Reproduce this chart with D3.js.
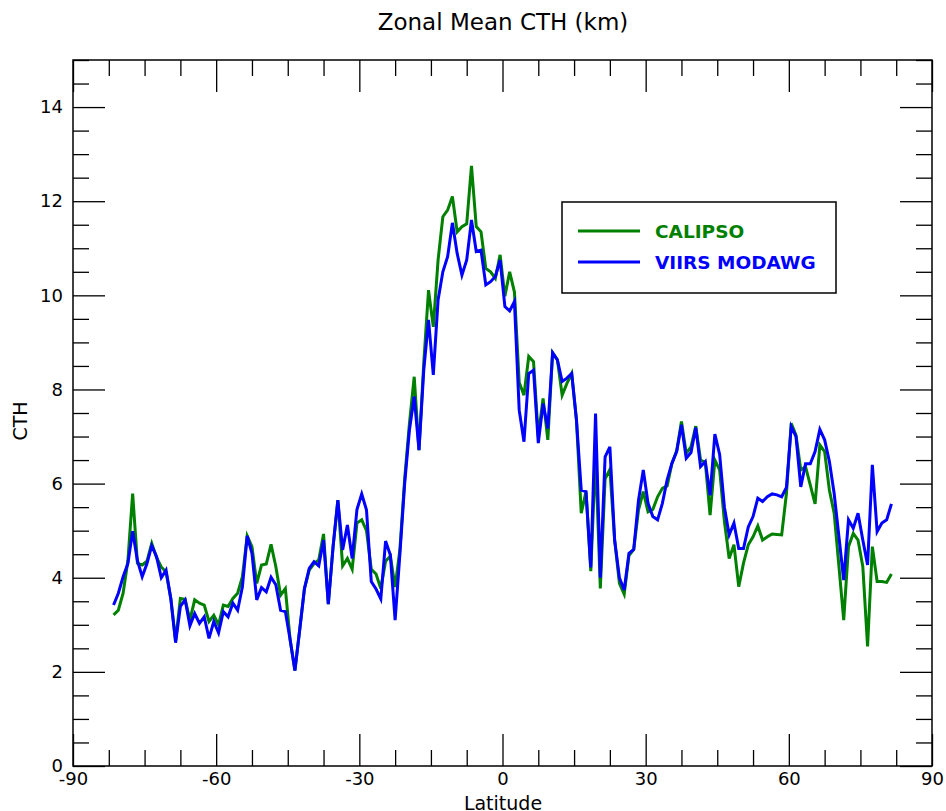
<!DOCTYPE html>
<html>
<head>
<meta charset="utf-8">
<script src="https://cdn.jsdelivr.net/npm/d3@7"></script>
<style>
  html, body { margin: 0; padding: 0; background: #fff; }
  svg { display: block; font-family: "DejaVu Sans", sans-serif; }
</style>
</head>
<body>
<svg id="chart" width="946" height="811"></svg>
<script>
// Latitude bin centres (1-degree zonal bins)
const latitudes = d3.range(-81.5, 82, 1);

// Zonal mean cloud-top height (km), CALIPSO
const calipso = [
  3.21, 3.31, 3.67, 4.36, 5.79, 4.31, 4.27, 4.35, 4.73, 4.43,
  4.23, 4.12, 3.56, 2.66, 3.56, 3.54, 3.10, 3.53, 3.46, 3.42,
  3.07, 3.20, 3.00, 3.42, 3.39, 3.56, 3.67, 4.02, 4.89, 4.66,
  3.88, 4.27, 4.29, 4.71, 4.24, 3.63, 3.77, 2.68, 2.03, 2.89,
  3.77, 4.16, 4.30, 4.38, 4.93, 3.44, 4.66, 5.65, 4.25, 4.41,
  4.18, 5.16, 5.23, 5.00, 4.18, 4.08, 3.77, 4.35, 4.46, 3.80,
  4.60, 6.10, 7.28, 8.27, 6.71, 8.56, 10.11, 9.33, 10.75, 11.67,
  11.81, 12.10, 11.35, 11.46, 11.52, 12.75, 11.46, 11.35, 10.57, 10.50,
  10.36, 10.86, 9.98, 10.50, 10.07, 8.15, 7.88, 8.70, 8.59, 7.00,
  7.81, 6.93, 8.78, 8.63, 7.88, 8.13, 8.34, 7.35, 5.37, 5.83,
  4.14, 6.60, 3.77, 6.10, 6.30, 4.80, 3.88, 3.65, 4.47, 4.60,
  5.44, 5.83, 5.40, 5.45, 5.72, 5.90, 5.95, 6.43, 6.70, 7.32,
  6.64, 6.78, 7.22, 6.50, 6.45, 5.33, 6.50, 6.29, 5.20, 4.41,
  4.70, 3.81, 4.31, 4.70, 4.87, 5.10, 4.80, 4.87, 4.93, 4.92,
  4.91, 5.79, 7.28, 7.03, 6.29, 6.36, 5.97, 5.57, 6.82, 6.68,
  5.86, 5.37, 4.24, 3.10, 4.66, 4.94, 4.80, 4.24, 2.54, 4.66,
  3.92, 3.92, 3.90, 4.08
];

// Zonal mean cloud-top height (km), VIIRS MODAWG
const viirs = [
  3.42, 3.67, 4.02, 4.30, 4.99, 4.36, 4.02, 4.30, 4.68, 4.45,
  4.00, 4.16, 3.55, 2.62, 3.39, 3.53, 2.98, 3.24, 3.03, 3.17,
  2.71, 3.07, 2.83, 3.28, 3.17, 3.46, 3.31, 3.81, 4.89, 4.52,
  3.53, 3.79, 3.70, 4.01, 3.85, 3.31, 3.28, 2.68, 2.03, 2.89,
  3.77, 4.20, 4.34, 4.25, 4.80, 3.44, 4.66, 5.65, 4.59, 5.12,
  4.41, 5.45, 5.78, 5.44, 3.92, 3.76, 3.55, 4.78, 4.48, 3.10,
  4.50, 6.00, 7.14, 7.85, 6.71, 8.41, 9.48, 8.31, 9.90, 10.50,
  10.82, 11.54, 10.89, 10.43, 10.75, 11.60, 10.93, 10.96, 10.22, 10.29,
  10.40, 10.75, 9.76, 9.67, 9.87, 7.56, 6.89, 8.34, 8.41, 6.86,
  7.70, 7.17, 8.78, 8.63, 8.17, 8.24, 8.34, 7.35, 5.86, 5.83,
  4.22, 7.49, 4.00, 6.57, 6.78, 4.80, 4.00, 3.74, 4.52, 4.60,
  5.65, 6.29, 5.58, 5.30, 5.23, 5.58, 6.08, 6.43, 6.68, 7.25,
  6.54, 6.66, 7.19, 6.36, 6.47, 5.75, 7.05, 6.62, 5.50, 4.91,
  5.16, 4.62, 4.62, 5.08, 5.30, 5.69, 5.62, 5.72, 5.78, 5.76,
  5.72, 5.92, 7.21, 7.00, 5.93, 6.42, 6.42, 6.68, 7.15, 6.93,
  6.47, 5.79, 4.87, 3.95, 5.23, 5.05, 5.37, 4.80, 4.27, 6.40,
  4.98, 5.16, 5.23, 5.57
];

const seriesNames = ["CALIPSO", "VIIRS MODAWG"];
const seriesColors = ["#008000", "#0000ff"];

const xMajorTicks = [-90, -60, -30, 0, 30, 60, 90];
const yMajorTicks = [0, 2, 4, 6, 8, 10, 12, 14];

const svg = d3.select("#chart");
const plot = { left: 73, right: 932, top: 60, bottom: 766 };

const x = d3.scaleLinear().domain([-90, 90]).range([plot.left, plot.right]);
const y = d3.scaleLinear().domain([0, 15]).range([plot.bottom, plot.top]);

const majorLen = 32, minorLen = 16;
const xMinor = d3.range(-90, 90.01, 7.5).filter(v => !xMajorTicks.includes(v));
const yMinor = d3.range(0, 15.01, 0.5).filter(v => !yMajorTicks.includes(v));
const plain = d => String(d);

const axesG = svg.append("g").attr("class", "axes");

// bottom: labelled major ticks + minor ticks, pointing inward
axesG.append("g").attr("class", "lbl-x").attr("transform", `translate(0,${plot.bottom})`)
  .call(d3.axisBottom(x).tickValues(xMajorTicks).tickSize(-majorLen)
    .tickPadding(6).tickFormat(plain));
axesG.append("g").attr("transform", `translate(0,${plot.bottom})`)
  .call(d3.axisBottom(x).tickValues(xMinor).tickSize(-minorLen).tickFormat(""));
// top
axesG.append("g").attr("transform", `translate(0,${plot.top})`)
  .call(d3.axisTop(x).tickValues(xMajorTicks).tickSize(-majorLen).tickFormat(""));
axesG.append("g").attr("transform", `translate(0,${plot.top})`)
  .call(d3.axisTop(x).tickValues(xMinor).tickSize(-minorLen).tickFormat(""));
// left: labelled
axesG.append("g").attr("class", "lbl-y").attr("transform", `translate(${plot.left},0)`)
  .call(d3.axisLeft(y).tickValues(yMajorTicks).tickSize(-majorLen)
    .tickPadding(10).tickFormat(plain));
axesG.append("g").attr("transform", `translate(${plot.left},0)`)
  .call(d3.axisLeft(y).tickValues(yMinor).tickSize(-minorLen).tickFormat(""));
// right
axesG.append("g").attr("transform", `translate(${plot.right},0)`)
  .call(d3.axisRight(y).tickValues(yMajorTicks).tickSize(-majorLen).tickFormat(""));
axesG.append("g").attr("transform", `translate(${plot.right},0)`)
  .call(d3.axisRight(y).tickValues(yMinor).tickSize(-minorLen).tickFormat(""));

axesG.selectAll(".domain").remove();
axesG.selectAll(".tick line").attr("stroke", "#000").attr("stroke-width", 1.3);
axesG.selectAll(".tick text")
  .attr("fill", "#000")
  .style("font-size", "18px")
  .style("font-family", "DejaVu Sans, sans-serif");

// frame
svg.append("rect")
  .attr("x", plot.left).attr("y", plot.top)
  .attr("width", plot.right - plot.left).attr("height", plot.bottom - plot.top)
  .attr("fill", "none").attr("stroke", "#000").attr("stroke-width", 1.5);

// data lines
const line = d3.line().x((d, i) => x(latitudes[i])).y(d => y(d));
[calipso, viirs].forEach((vals, k) => {
  svg.append("path")
    .datum(vals)
    .attr("d", line)
    .attr("fill", "none")
    .attr("stroke", seriesColors[k])
    .attr("stroke-width", 3)
    .attr("stroke-linejoin", "miter");
});

// title and axis titles
svg.append("text")
  .attr("x", 503).attr("y", 30)
  .attr("text-anchor", "middle")
  .style("font-size", "23px")
  .text("Zonal Mean CTH (km)");

svg.append("text")
  .attr("x", 503).attr("y", 810)
  .attr("text-anchor", "middle")
  .style("font-size", "19px")
  .text("Latitude");

svg.append("text")
  .attr("transform", "translate(27,421) rotate(-90)")
  .attr("text-anchor", "middle")
  .style("font-size", "19px")
  .text("CTH");

// legend
const legend = svg.append("g");
legend.append("rect")
  .attr("x", 562).attr("y", 202).attr("width", 274).attr("height", 91)
  .attr("fill", "#fff").attr("stroke", "#000").attr("stroke-width", 1.5);
seriesNames.forEach((name, k) => {
  const ly = 231 + k * 31;
  legend.append("line")
    .attr("x1", 578).attr("x2", 640).attr("y1", ly).attr("y2", ly)
    .attr("stroke", seriesColors[k]).attr("stroke-width", 3);
  legend.append("text")
    .attr("x", 655).attr("y", ly + 7)
    .attr("fill", seriesColors[k])
    .style("font-size", "18.5px").style("font-weight", "bold")
    .text(name);
});
</script>
</body>
</html>
